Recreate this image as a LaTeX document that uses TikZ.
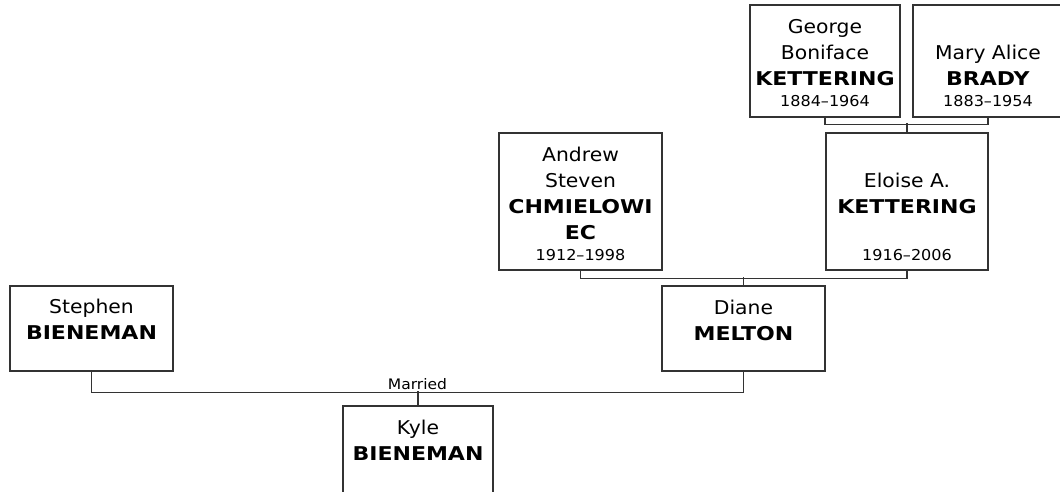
\documentclass[tikz,border=0pt]{standalone}
\usepackage{fontspec}
\setmainfont{DejaVu Sans}[FakeStretch=1.07, BoldFeatures={FakeStretch=1.16}]
\usepackage{tikz}
\usetikzlibrary{positioning}
\tikzstyle{person} = [rectangle, draw=black!80, line width=1.2pt, fill=white, inner sep=0pt]
\tikzstyle{names} = [anchor=north, inner sep=0pt, align=center, font=\fontsize{19}{26}\selectfont]
\tikzstyle{dates} = [anchor=base, inner sep=0pt, font=\fontsize{15}{18}\selectfont]
\tikzstyle{link} = [draw=black!80, line width=1.3pt]

\begin{document}
\begin{tikzpicture}[x=1pt, y=-1pt]
        \useasboundingbox (0,0) rectangle (1060,491);
        % boxes
        \node (george) [person, minimum width=150pt, minimum height=112pt] at (825,61) {};
        \node (mary) [person, minimum width=150pt, minimum height=112pt] at (988,61) {};
        \node (eloise) [person, minimum width=162pt, minimum height=137pt] at (907,201.5) {};
        \node (andrew) [person, minimum width=163pt, minimum height=137pt] at (580.5,201.5) {};
        \node (diane) [person, minimum width=163pt, minimum height=85pt] at (743.5,328.5) {};
        \node (stephen) [person, minimum width=163pt, minimum height=85pt] at (91.5,328.5) {};
        \node (kyle) [person, minimum width=150pt, minimum height=100pt] at (418,456) {};

        % names and dates
        \node (georgeN) [names] at ([yshift=-11pt]george.north) {\strut George\\Boniface\\\textbf{KETTERING}};
        \node (georgeD) [dates] at ([yshift=11pt]george.south) {1884–1964};
        \node (maryN) [names] at ([yshift=-37pt]mary.north) {\strut Mary Alice\\\textbf{BRADY}};
        \node (maryD) [dates] at ([yshift=11pt]mary.south) {1883–1954};
        \node (eloiseN) [names] at ([yshift=-37pt]eloise.north) {\strut Eloise A.\\\textbf{KETTERING}};
        \node (eloiseD) [dates] at ([yshift=10pt]eloise.south) {1916–2006};
        \node (andrewN) [names] at ([yshift=-11pt]andrew.north) {\strut Andrew\\Steven\\\textbf{CHMIELOWI}\\\textbf{EC}};
        \node (andrewD) [dates] at ([yshift=10pt]andrew.south) {1912–1998};
        \node (dianeN) [names] at ([yshift=-11pt]diane.north) {\strut Diane\\\textbf{MELTON}};
        \node (stephenN) [names] at ([yshift=-9.5pt]stephen.north) {\strut Stephen\\\textbf{BIENEMAN}};
        \node (kyleN) [names] at ([yshift=-11pt]kyle.north) {\strut Kyle\\\textbf{BIENEMAN}};

        % family lines
        \draw [link] (george.south) -- ++(0,7) -| (mary.south);
        \draw [link] (eloise.north) -- ++(0,-9);
        \draw [link] (andrew.south) -- ++(0,8) -| (eloise.south);
        \draw [link] (diane.north) -- ++(0,-8);
        \draw [link] (stephen.south) -- ++(0,21) -- node[above, inner sep=2pt, font=\fontsize{14.5}{17}\selectfont] (married) {Married} ([yshift=-21pt]diane.south) -- (diane.south);
        \draw [link] (kyle.north) -- ++(0,-14);
    \end{tikzpicture}
\end{document}
